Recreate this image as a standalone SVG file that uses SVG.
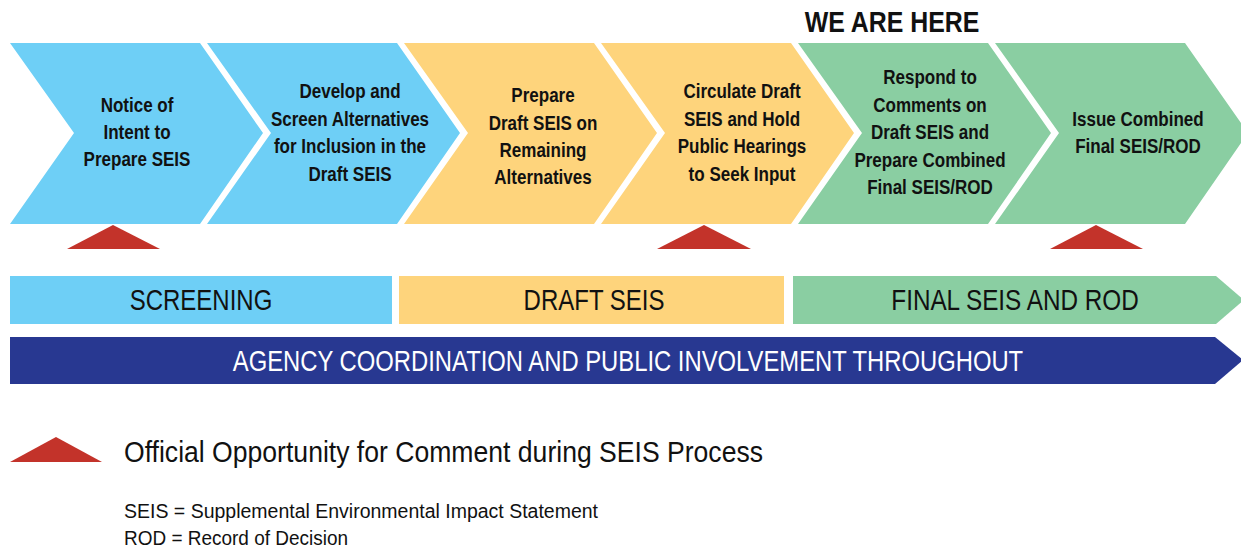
<svg xmlns="http://www.w3.org/2000/svg" width="1241" height="548" viewBox="0 0 1241 548">
<style>
.bl{fill:#6ECFF6}.yl{fill:#FED47C}.gr{fill:#8ACEA2}.nv{fill:#283891}.rd{fill:#C3332A}
.t{font-family:"Liberation Sans",Arial,sans-serif;font-weight:bold;font-size:20.5px;fill:#111;text-anchor:middle}
.b{font-family:"Liberation Sans",Arial,sans-serif;font-size:30px;fill:#111;text-anchor:middle}
.l{font-family:"Liberation Sans",Arial,sans-serif;fill:#111}
</style>
<rect width="1241" height="548" fill="#fff"/>
<g transform="translate(892 0) scale(0.83 1)"><text id="here" x="0" y="32" style="font-family:'Liberation Sans',Arial,sans-serif;font-weight:bold;font-size:30px;fill:#111;text-anchor:middle">WE ARE HERE</text></g>
<g id="step1"><polygon class="bl" points="10,43 200,43 263,133 200,224 10,224 74,133"/>
<g transform="translate(137 0) scale(0.83 1)"><text class="t"><tspan x="0" y="112">Notice of</tspan><tspan x="0" y="139">Intent to</tspan><tspan x="0" y="166">Prepare SEIS</tspan></text></g></g>
<g id="step2"><polygon class="bl" points="207,43 397,43 460,133 397,224 207,224 271,133"/>
<g transform="translate(350 0) scale(0.83 1)"><text class="t"><tspan x="0" y="98">Develop and</tspan><tspan x="0" y="126">Screen Alternatives</tspan><tspan x="0" y="153">for Inclusion in the</tspan><tspan x="0" y="181">Draft SEIS</tspan></text></g></g>
<g id="step3"><polygon class="yl" points="404,43 594,43 657,133 594,224 404,224 468,133"/>
<g transform="translate(543 0) scale(0.83 1)"><text class="t"><tspan x="0" y="102">Prepare</tspan><tspan x="0" y="130">Draft SEIS on</tspan><tspan x="0" y="157">Remaining</tspan><tspan x="0" y="184">Alternatives</tspan></text></g></g>
<g id="step4"><polygon class="yl" points="601,43 791,43 854,133 791,224 601,224 665,133"/>
<g transform="translate(742 0) scale(0.83 1)"><text class="t"><tspan x="0" y="98">Circulate Draft</tspan><tspan x="0" y="126">SEIS and Hold</tspan><tspan x="0" y="153">Public Hearings</tspan><tspan x="0" y="181">to Seek Input</tspan></text></g></g>
<g id="step5"><polygon class="gr" points="798,43 988,43 1051,133 988,224 798,224 862,133"/>
<g transform="translate(930 0) scale(0.83 1)"><text class="t"><tspan x="0" y="84">Respond to</tspan><tspan x="0" y="112">Comments on</tspan><tspan x="0" y="139">Draft SEIS and</tspan><tspan x="0" y="167">Prepare Combined</tspan><tspan x="0" y="194">Final SEIS/ROD</tspan></text></g></g>
<g id="step6"><polygon class="gr" points="995,43 1185,43 1248,133 1185,224 995,224 1059,133"/>
<g transform="translate(1138 0) scale(0.83 1)"><text class="t"><tspan x="0" y="126">Issue Combined</tspan><tspan x="0" y="153">Final SEIS/ROD</tspan></text></g></g>
<g id="markers">
<polygon class="rd" points="67,249 113,225 160,249"/>
<polygon class="rd" points="657,249 704,225 751,249"/>
<polygon class="rd" points="1050,249 1096,225 1143,249"/>
</g>
<g id="phase-screening"><rect class="bl" x="10" y="276" width="382" height="48"/><g transform="translate(201 0) scale(0.8 1)"><text class="b" x="0" y="310">SCREENING</text></g></g>
<g id="phase-draft"><rect class="yl" x="399" y="276" width="385" height="48"/><g transform="translate(594 0) scale(0.8 1)"><text class="b" x="0" y="310">DRAFT SEIS</text></g></g>
<g id="phase-final"><polygon class="gr" points="793,276 1216,276 1244,300 1216,324 793,324"/><g transform="translate(1015 0) scale(0.81 1)"><text class="b" x="0" y="310">FINAL SEIS AND ROD</text></g></g>
<g id="agency"><polygon class="nv" points="10,337 1215,337 1243,360 1215,384 10,384"/><g transform="translate(628 0) scale(0.794 1)"><text class="b" x="0" y="371" style="fill:#fff">AGENCY COORDINATION AND PUBLIC INVOLVEMENT THROUGHOUT</text></g></g>
<g id="legend">
<polygon class="rd" points="10,462 56,437 102,462"/>
<text class="l" x="124" y="462" font-size="29" textLength="639" lengthAdjust="spacingAndGlyphs">Official Opportunity for Comment during SEIS Process</text>
<text class="l" x="124" y="518" font-size="20" textLength="474" lengthAdjust="spacingAndGlyphs">SEIS = Supplemental Environmental Impact Statement</text>
<text class="l" x="124" y="545" font-size="20" textLength="224" lengthAdjust="spacingAndGlyphs">ROD = Record of Decision</text>
</g>
</svg>
